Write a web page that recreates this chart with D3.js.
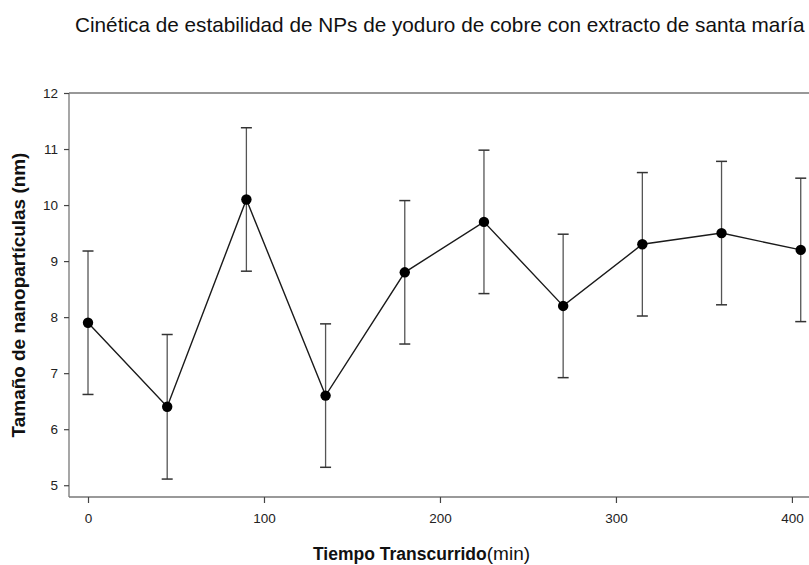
<!DOCTYPE html>
<html>
<head>
<meta charset="utf-8">
<script src="https://cdn.jsdelivr.net/npm/d3@7"></script>
<style>
  html, body { margin: 0; padding: 0; background: #fff; }
  svg { display: block; font-family: Arial, "Liberation Sans", sans-serif; }
</style>
</head>
<body>
<svg id="chart" width="809" height="565"></svg>
<script>
// Particle size over elapsed time (mean ± error)
const tiempos = [0, 45, 90, 135, 180, 225, 270, 315, 360, 405];
const tamanos = [7.9, 6.4, 10.1, 6.6, 8.8, 9.7, 8.2, 9.3, 9.5, 9.2];
const errores = [1.28, 1.29, 1.28, 1.28, 1.28, 1.28, 1.28, 1.28, 1.28, 1.28];
const xTicks = [0, 100, 200, 300, 400];
const yTicks = [5, 6, 7, 8, 9, 10, 11, 12];

const titulo = "Cinética de estabilidad de NPs de yoduro de cobre con extracto de santa maría";
const tituloX = "Tiempo Transcurrido";
const unidadX = "(min)";
const tituloY = "Tamaño de nanopartículas (nm)";

(function () {
  const svg = d3.select("#chart");
  const mLeft = 69, mRight = 809, mTop = 93, mBottom = 497;

  const x = d3.scaleLinear().domain([-10.8, 409.7]).range([mLeft, mRight]);
  const y = d3.scaleLinear().domain([4.79, 12]).range([mBottom, mTop]);

  // Title
  const t = svg.append("text")
    .attr("x", 75).attr("y", 32)
    .attr("font-size", 18).attr("fill", "#111")
    .text(titulo);
  const tl = t.node().getComputedTextLength();
  t.attr("font-size", 18 * 730 / tl);

  // Frame: top line
  svg.append("line")
    .attr("x1", mLeft).attr("x2", mRight).attr("y1", mTop).attr("y2", mTop)
    .attr("stroke", "#333").attr("stroke-width", 1.2);

  // Y axis
  const yAxis = svg.append("g")
    .attr("transform", `translate(${mLeft},0)`)
    .call(d3.axisLeft(y).tickValues(yTicks).tickSize(5).tickPadding(6).tickFormat(d3.format("d")));
  yAxis.select(".domain").attr("d", `M0,${mTop}V${mBottom}`).attr("stroke", "#777").attr("stroke-width", 1.3);
  yAxis.selectAll(".tick line").attr("stroke", "#444").attr("stroke-width", 1.2);
  yAxis.selectAll(".tick text").attr("font-size", 13.5).attr("fill", "#222")
    .attr("font-family", "Arial, 'Liberation Sans', sans-serif");

  // X axis
  const xAxis = svg.append("g")
    .attr("transform", `translate(0,${mBottom})`)
    .call(d3.axisBottom(x).tickValues(xTicks).tickSize(6).tickPadding(10).tickFormat(d3.format("d")));
  xAxis.select(".domain").attr("d", `M${mLeft},0H${mRight}`).attr("stroke", "#777").attr("stroke-width", 1.3);
  xAxis.selectAll(".tick line").attr("stroke", "#444").attr("stroke-width", 1.2);
  xAxis.selectAll(".tick text").attr("font-size", 13.5).attr("fill", "#222")
    .attr("font-family", "Arial, 'Liberation Sans', sans-serif");

  // Axis titles
  const xt = svg.append("text")
    .attr("x", 313).attr("y", 560)
    .attr("fill", "#111");
  xt.append("tspan").attr("font-weight", "bold").attr("font-size", 17.5).text(tituloX);
  xt.append("tspan").attr("font-size", 19).text(unidadX);

  const yt = svg.append("text")
    .attr("transform", "translate(25,295) rotate(-90)")
    .attr("text-anchor", "middle")
    .attr("font-weight", "bold").attr("font-size", 16).attr("fill", "#111")
    .text(tituloY);
  const yl = yt.node().getComputedTextLength();
  yt.attr("font-size", 16 * 285 / yl);

  const data = tiempos.map((tm, i) => ({ t: tm, v: tamanos[i], e: errores[i] }));

  // Error bars
  const eb = svg.append("g");
  data.forEach(d => {
    eb.append("line")
      .attr("x1", x(d.t)).attr("x2", x(d.t))
      .attr("y1", y(d.v + d.e)).attr("y2", y(d.v - d.e))
      .attr("stroke", "#555").attr("stroke-width", 1.3);
    [d.v + d.e, d.v - d.e].forEach(c => {
      eb.append("line")
        .attr("x1", x(d.t) - 5.5).attr("x2", x(d.t) + 5.5)
        .attr("y1", y(c)).attr("y2", y(c))
        .attr("stroke", "#333").attr("stroke-width", 1.5);
    });
  });

  // Connecting line
  svg.append("path")
    .datum(data)
    .attr("fill", "none").attr("stroke", "#1a1a1a").attr("stroke-width", 1.4)
    .attr("d", d3.line().x(d => x(d.t)).y(d => y(d.v)));

  // Markers
  svg.append("g").selectAll("circle")
    .data(data).join("circle")
    .attr("cx", d => x(d.t)).attr("cy", d => y(d.v))
    .attr("r", 5.2).attr("fill", "#000");
})();
</script>
</body>
</html>
